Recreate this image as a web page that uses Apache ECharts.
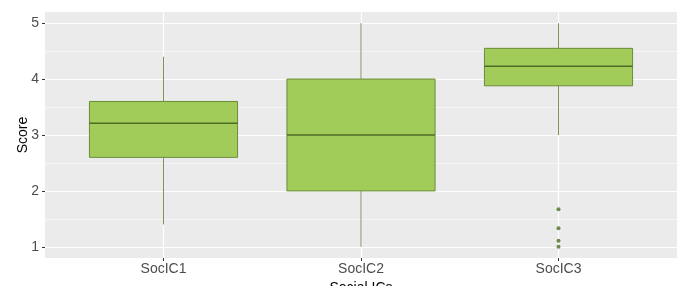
<!DOCTYPE html>
<html lang="en">
<head>
    <meta charset="UTF-8">
    <title>Social ICs boxplot</title>
    <script src="https://cdn.jsdelivr.net/npm/echarts@6/dist/echarts.min.js"></script>
    <style>
        html, body { margin: 0; padding: 0; background: #fff; }
        #main { width: 684px; height: 286px; }
    </style>
</head>
<body>
<div id="main"></div>
<script>
    // categories and box stats: [low whisker, q1, median, q3, high whisker]
    var categories = ['SocIC1', 'SocIC2', 'SocIC3'];
    var lowWhisker = [1.4, 1.0, 3.0];
    var q1 = [2.6, 2.0, 3.88];
    var median = [3.21, 3.0, 4.23];
    var q3 = [3.6, 4.0, 4.55];
    var highWhisker = [4.4, 5.0, 5.0];
    // outliers: category index (1-based) and value
    var outlierCat = [3, 3, 3, 3];
    var outlierVal = [1.67, 1.33, 1.11, 1.0];
    var yTicks = [1, 2, 3, 4, 5];
    var yMinor = [1.5, 2.5, 3.5, 4.5];
    var xTicks = [1, 2, 3];

    var boxData = categories.map(function (c, i) {
        return [i + 1, lowWhisker[i], q1[i], median[i], q3[i], highWhisker[i]];
    });
    var outliers = outlierCat.map(function (c, i) { return [c, outlierVal[i]]; });

    function renderBox(params, api) {
        var x = api.value(0);
        var half = 0.375;
        var pLow = api.coord([x, api.value(1)]);
        var pQ1 = api.coord([x, api.value(2)]);
        var pMed = api.coord([x, api.value(3)]);
        var pQ3 = api.coord([x, api.value(4)]);
        var pHigh = api.coord([x, api.value(5)]);
        var left = api.coord([x - half, 1])[0];
        var right = api.coord([x + half, 1])[0];
        var wStyle = { stroke: '#7d9458', lineWidth: 1 };
        return {
            type: 'group',
            children: [
                { type: 'line', shape: { x1: pHigh[0], y1: pHigh[1], x2: pQ3[0], y2: pQ3[1] }, style: wStyle },
                { type: 'line', shape: { x1: pQ1[0], y1: pQ1[1], x2: pLow[0], y2: pLow[1] }, style: wStyle },
                { type: 'rect', shape: { x: left, y: pQ3[1], width: right - left, height: pQ1[1] - pQ3[1] },
                  style: { fill: '#a2cc5a', stroke: '#6a8c3a', lineWidth: 1 } },
                { type: 'line', shape: { x1: left, y1: pMed[1], x2: right, y2: pMed[1] },
                  style: { stroke: '#4e6b26', lineWidth: 1.5 } }
            ]
        };
    }

    var chart = echarts.init(document.getElementById('main'));
    var font = 'Liberation Sans, Arial, sans-serif';

    chart.setOption({
        animation: false,
        grid: {
            left: 45, right: 7, top: 12, bottom: 28,
            outerBoundsMode: 'none', containLabel: false,
            show: true, backgroundColor: '#ebebeb', borderWidth: 0
        },
        xAxis: {
            type: 'value', min: 0.4, max: 3.6,
            name: 'Social ICs', nameLocation: 'middle', nameGap: 21,
            nameTextStyle: { color: '#000', fontSize: 14, fontFamily: font },
            axisLine: { show: false },
            axisTick: { show: true, length: 3, customValues: xTicks, lineStyle: { color: '#333' } },
            axisLabel: {
                customValues: xTicks, margin: 4, color: '#4d4d4d', fontSize: 14, fontFamily: font,
                formatter: function (v) { return categories[Math.round(v) - 1] || ''; }
            },
            splitLine: { show: false }
        },
        yAxis: {
            type: 'value', min: 0.8, max: 5.2,
            name: 'Score', nameLocation: 'middle', nameGap: 15, nameRotate: 90,
            nameMoveOverlap: false,
            nameTextStyle: { color: '#000', fontSize: 14, fontFamily: font },
            axisLine: { show: false },
            axisTick: { show: true, length: 3, customValues: yTicks, lineStyle: { color: '#333' } },
            axisLabel: { customValues: yTicks, margin: 6, color: '#4d4d4d', fontSize: 14, fontFamily: font },
            splitLine: { show: false }
        },
        series: [
            {
                // panel grid lines
                type: 'line', data: [], silent: true, z: 1,
                markLine: {
                    z: 1, silent: true, symbol: 'none', label: { show: false }, animation: false,
                    data: yMinor.map(function (v) { return { yAxis: v, lineStyle: { color: '#fff', width: 0.5, type: 'solid' } }; })
                        .concat(yTicks.map(function (v) { return { yAxis: v, lineStyle: { color: '#fff', width: 1.2, type: 'solid' } }; }))
                        .concat(xTicks.map(function (v) { return { xAxis: v, lineStyle: { color: '#fff', width: 1.2, type: 'solid' } }; }))
                }
            },
            {
                type: 'custom', z: 10,
                renderItem: renderBox,
                encode: { x: 0, y: [1, 2, 3, 4, 5] },
                data: boxData
            },
            {
                type: 'scatter', z: 11,
                symbolSize: 4,
                itemStyle: { color: '#4b6b22' },
                data: outliers
            }
        ]
    });
</script>
</body>
</html>
